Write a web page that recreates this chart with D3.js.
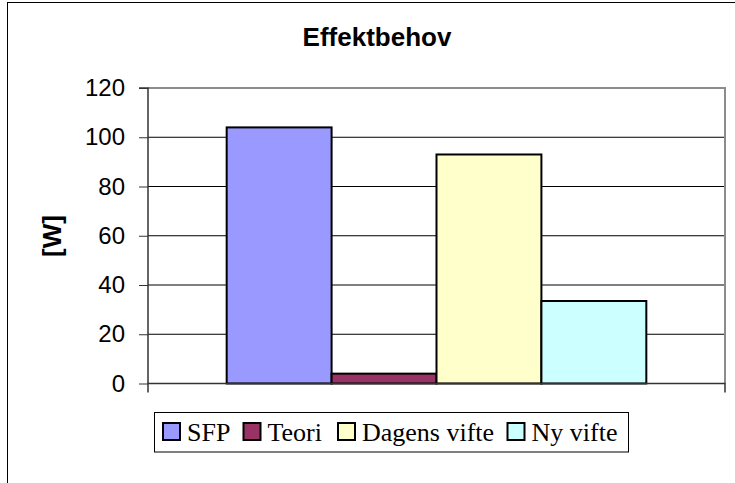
<!DOCTYPE html>
<html>
<head>
<meta charset="utf-8">
<script src="https://cdn.jsdelivr.net/npm/d3@7"></script>
<style>
  html, body { margin: 0; padding: 0; background: #fff; }
  svg { display: block; }
</style>
</head>
<body>
<svg id="chart" width="735" height="483"></svg>
<script>
// Power demand per fan option
const series = ["SFP", "Teori", "Dagens vifte", "Ny vifte"];
const values = [104, 4, 93, 33.5];
const colors = ["#9999FF", "#993366", "#FFFFCC", "#CCFFFF"];
const yTicks = [0, 20, 40, 60, 80, 100, 120];
const chartTitle = "Effektbehov";
const yTitle = "[W]";

const svg = d3.select("#chart");

// chart area frame (extends past the right/bottom edges)
svg.append("rect")
  .attr("x", 7.5).attr("y", 2.5)
  .attr("width", 760).attr("height", 500)
  .attr("fill", "#fff").attr("stroke", "#000").attr("stroke-width", 1);

const plot = { left: 148, right: 725, top: 88, bottom: 383.5 };

const y = d3.scaleLinear().domain([0, 120]).range([plot.bottom, plot.top]);

// one category, bars side by side with a 150% gap width
const bw = (plot.right - plot.left) / (series.length + 1.5);
const x = d3.scaleBand()
  .domain(series)
  .range([plot.left + 0.75 * bw, plot.right - 0.75 * bw])
  .padding(0);

// horizontal gridlines
svg.append("g")
  .selectAll("line")
  .data(yTicks.filter(t => t > 0 && t < 120))
  .join("line")
  .attr("x1", plot.left).attr("x2", plot.right)
  .attr("y1", d => y(d)).attr("y2", d => y(d))
  .attr("stroke", "#000").attr("stroke-width", 1);

// plot area border (top and right in gray)
svg.append("path")
  .attr("d", `M${plot.left},${y(120)}H${plot.right}V${plot.bottom}`)
  .attr("fill", "none").attr("stroke", "#8c8c8c").attr("stroke-width", 2);

// bars
svg.append("g")
  .selectAll("rect")
  .data(series)
  .join("rect")
  .attr("x", d => x(d))
  .attr("y", (d, i) => y(values[i]))
  .attr("width", x.bandwidth())
  .attr("height", (d, i) => y(0) - y(values[i]))
  .attr("fill", (d, i) => colors[i])
  .attr("stroke", "#000").attr("stroke-width", 2);

// y axis
const yAxis = d3.axisLeft(y).tickValues(yTicks).tickSize(9).tickPadding(14).tickFormat(d3.format("d"));
const gy = svg.append("g")
  .attr("transform", `translate(${plot.left},0)`)
  .call(yAxis);
gy.select(".domain").attr("stroke", "#333").attr("stroke-width", 1.5)
  .attr("d", `M-9,${plot.top}H0V${plot.bottom}`);
gy.selectAll(".tick line").attr("stroke", "#333");
gy.selectAll(".tick text")
  .attr("font-family", "'Liberation Sans', Arial, sans-serif")
  .attr("font-size", 24).attr("fill", "#000");

// category axis baseline with end ticks
svg.append("path")
  .attr("d", `M${plot.left},${plot.bottom + 9}V${plot.bottom}H${plot.right}V${plot.bottom + 9}`)
  .attr("fill", "none").attr("stroke", "#333").attr("stroke-width", 1.5);

// title
svg.append("text")
  .attr("x", 377).attr("y", 46)
  .attr("text-anchor", "middle")
  .attr("font-family", "'Liberation Sans', Arial, sans-serif")
  .attr("font-weight", "bold").attr("font-size", 26)
  .text(chartTitle);

// y axis title
svg.append("text")
  .attr("transform", "translate(61,236) rotate(-90)")
  .attr("text-anchor", "middle")
  .attr("font-family", "'Liberation Sans', Arial, sans-serif")
  .attr("font-weight", "bold").attr("font-size", 26)
  .text(yTitle);

// legend
const legend = svg.append("g");
legend.append("rect")
  .attr("x", 154.5).attr("y", 412.5).attr("width", 474).attr("height", 39.5)
  .attr("fill", "#fff").attr("stroke", "#000").attr("stroke-width", 1);

const legendX = [163, 243.5, 338, 507.5];
const item = legend.selectAll("g.item")
  .data(series)
  .join("g").attr("class", "item")
  .attr("transform", (d, i) => `translate(${legendX[i]},0)`);
item.append("rect")
  .attr("x", 0).attr("y", 423).attr("width", 17).attr("height", 17)
  .attr("fill", (d, i) => colors[i])
  .attr("stroke", "#000").attr("stroke-width", 2);
item.append("text")
  .attr("x", 24).attr("y", 441)
  .attr("font-family", "'Liberation Serif', 'Times New Roman', serif")
  .attr("font-size", 26)
  .text(d => d);
</script>
</body>
</html>
